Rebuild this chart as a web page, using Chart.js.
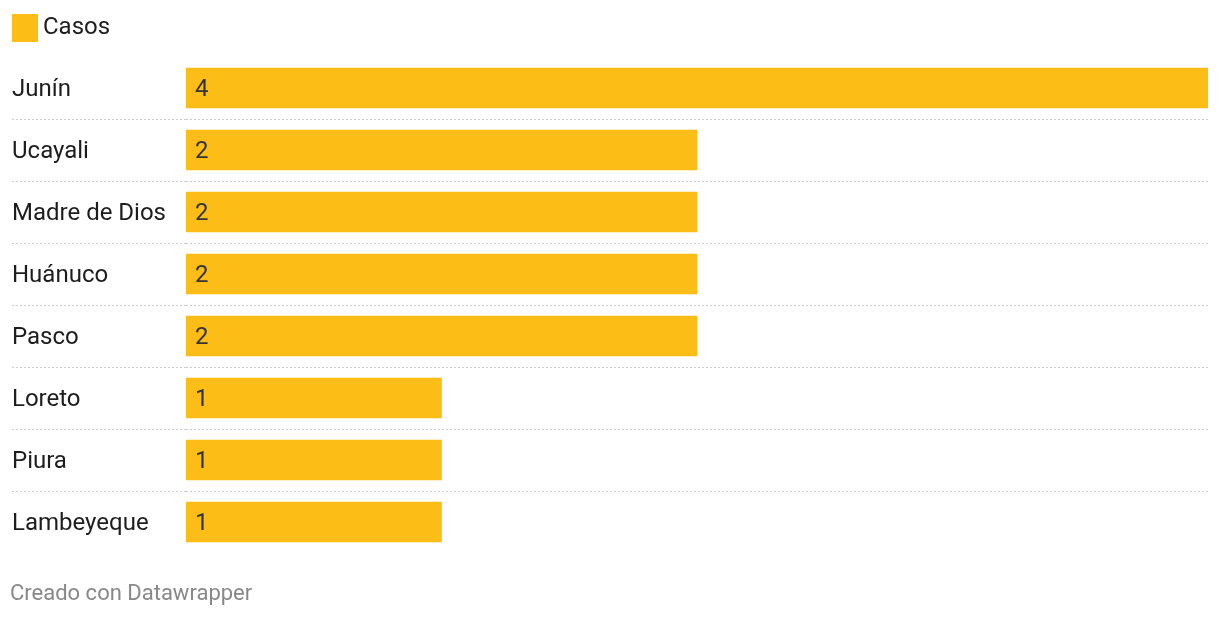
<!DOCTYPE html>
<html>
<head>
<meta charset="utf-8">
<script src="https://cdn.jsdelivr.net/npm/chart.js@4"></script>
<style>
  html, body { margin: 0; padding: 0; background: #fff; }
  #wrap { position: relative; width: 1220px; height: 620px; }
  #footer { position: absolute; left: 10px; top: 579px; font: 22px Roboto, sans-serif; color: #888; line-height: 28px; }
</style>
</head>
<body>
<div id="wrap">
  <canvas id="c" width="1220" height="620"></canvas>
  <div id="footer">Creado con Datawrapper</div>
</div>
<script>
const categories = ['Junín', 'Ucayali', 'Madre de Dios', 'Huánuco', 'Pasco', 'Loreto', 'Piura', 'Lambeyeque'];
const casos = [4, 2, 2, 2, 2, 1, 1, 1];
const seriesName = 'Casos';
const barColor = '#fdbd17';

Chart.defaults.font.family = 'Roboto';
Chart.defaults.color = '#1d1d1d';

const valueLabels = {
  id: 'valueLabels',
  afterDatasetsDraw(chart) {
    const ctx = chart.ctx;
    const meta = chart.getDatasetMeta(0);
    ctx.save();
    ctx.font = '24px Roboto';
    ctx.fillStyle = '#333';
    ctx.textBaseline = 'middle';
    ctx.textAlign = 'left';
    meta.data.forEach((bar, i) => {
      ctx.fillText(String(chart.data.datasets[0].data[i]), bar.base + 9, bar.y + 2);
    });
    ctx.restore();
  }
};

new Chart(document.getElementById('c'), {
  type: 'bar',
  data: {
    labels: categories,
    datasets: [{
      label: seriesName,
      data: casos,
      backgroundColor: barColor,
      borderWidth: 0,
      barThickness: 40
    }]
  },
  options: {
    indexAxis: 'y',
    responsive: false,
    animation: false,
    layout: { padding: { left: 12, right: 12, top: 11, bottom: 67 } },
    plugins: {
      legend: {
        display: true,
        position: 'top',
        align: 'start',
        labels: {
          usePointStyle: true,
          pointStyleWidth: 14,
          boxWidth: 14,
          boxHeight: 14,
          padding: 5,
          color: '#1d1d1d',
          font: { size: 24 },
          generateLabels(chart) {
            const items = Chart.defaults.plugins.legend.labels.generateLabels(chart);
            items.forEach(it => {
              it.pointStyle = 'rect';
              it.fillStyle = barColor;
              it.strokeStyle = barColor;
              it.lineWidth = 14;
              it.lineJoin = 'miter';
            });
            return items;
          }
        }
      },
      tooltip: { enabled: false }
    },
    scales: {
      x: {
        position: 'top',
        min: 0,
        max: 4,
        display: true,
        grid: { display: false },
        border: { display: false },
        ticks: { display: false },
        afterFit(s) { s.height = 7; }
      },
      y: {
        type: 'category',
        border: { display: false, dash: [2, 2] },
        grid: {
          offset: true,
          drawTicks: true,
          tickLength: 174,
          lineWidth: 1,
          color: c => (c.type === 'tick' && c.index > 0) ? '#cccccc' : 'rgba(0,0,0,0)',
          tickColor: c => (c.type === 'tick' && c.index > 0) ? '#cccccc' : 'rgba(0,0,0,0)',
          tickBorderDash: [2, 2]
        },
        ticks: {
          crossAlign: 'far',
          labelOffset: 2,
          color: '#1d1d1d',
          font: { size: 24 }
        },
        afterFit(s) { s.width = 174; }
      }
    }
  },
  plugins: [valueLabels]
});
</script>
</body>
</html>
